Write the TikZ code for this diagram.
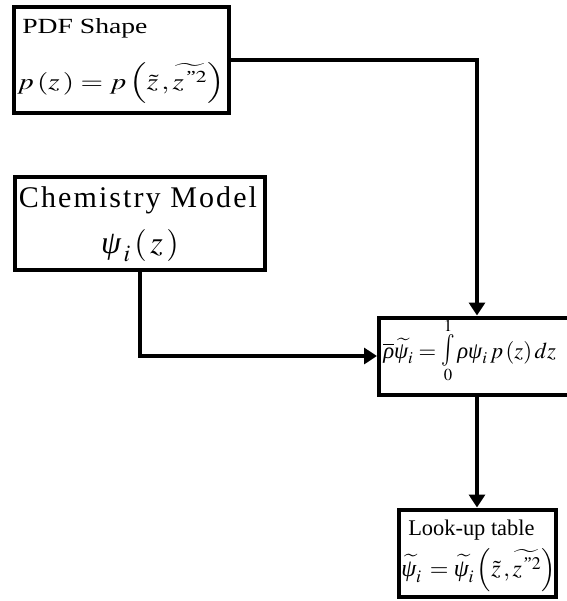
\documentclass[tikz,border=0pt]{standalone}
\usepackage{amsmath}
\usepackage{mathptmx}
\usepackage{fontspec}
\setmainfont{Liberation Serif}
\newfontfamily\chemfont[LetterSpace=7]{Liberation Serif}
\usetikzlibrary{arrows.meta}
\newcommand{\twoq}{\,\textrm{\char34}2}
\newcommand{\gpsi}{\textit{ψ}}
\newcommand{\grho}{\textit{ρ}}
\newcommand{\widex}[1]{\scalebox{1.28}[1]{#1}}
\newcommand{\tallint}{\mathop{\scalebox{1}[1.4]{$\int$}}\limits^{\raisebox{-5pt}{$\scriptstyle 1$}}_{\raisebox{4pt}{$\scriptstyle 0$}}}

\begin{document}
\begin{tikzpicture}[x=0.75pt,y=-0.75pt,
    blk/.style={draw,line width=3pt,inner sep=0pt},
    flow/.style={line width=3pt,-{Triangle[length=9.75pt,width=12pt]}}]
    \useasboundingbox(0,0)rectangle(567,601);
    % boxes
    \node[blk,minimum width=161.25pt,minimum height=79.5pt](pdf)at(121.5,60){};
    \node[blk,minimum width=187.5pt,minimum height=70pt](chem)at(139.5,223.75){};
    \node[blk,minimum width=147pt,minimum height=57.75pt](mix)at(477,356){};
    \node[blk,minimum width=117.4pt,minimum height=65.25pt](table)at(477.25,553){};
    % texts
    \node[anchor=base west,inner sep=0pt,font=\fontsize{16.2pt}{19pt}\selectfont](pdfname)at(22,33){\widex{PDF Shape}};
    \node[anchor=base west,inner sep=0pt,font=\fontsize{17pt}{20pt}\selectfont](pdfeq)at(17,89){\widex{$p\left(z\,\right)=p\left(\tilde z\,,\widetilde{z^{\twoq}}\right)$}};
    \node[anchor=base,inner sep=0pt,font=\fontsize{22.5pt}{26pt}\chemfont](chemname)at(138,207){Chemistry Model};
    \node[anchor=base,inner sep=0pt,font=\fontsize{24pt}{28pt}\selectfont](chemeq)at(140,253){$\gpsi_{\,i}\left(\,z\,\right)$};
    \node[anchor=base west,inner sep=0pt,font=\fontsize{17pt}{20pt}\selectfont](mixeq)at(383,358){$\overline{\grho}\widetilde{\gpsi_i}=\tallint\grho\gpsi_i\,p\left(z\right)dz$};
    \node[anchor=base west,inner sep=0pt,font=\fontsize{16.8pt}{19pt}\selectfont](tablename)at(408,535){Look-up table};
    \node[anchor=base west,inner sep=0pt,font=\fontsize{18pt}{20pt}\selectfont](tableeq)at(401,576){$\widetilde{\gpsi_i}\,=\widetilde{\gpsi_i}\left(\tilde z\,,\widetilde{z^{\twoq}}\right)$};
    % connectors
    \draw[flow](pdf.east)-|(mix.north);
    \draw[flow](chem.south)|-(mix.west);
    \draw[flow](mix.south)--(mix.south|-table.north);
\end{tikzpicture}
\end{document}
